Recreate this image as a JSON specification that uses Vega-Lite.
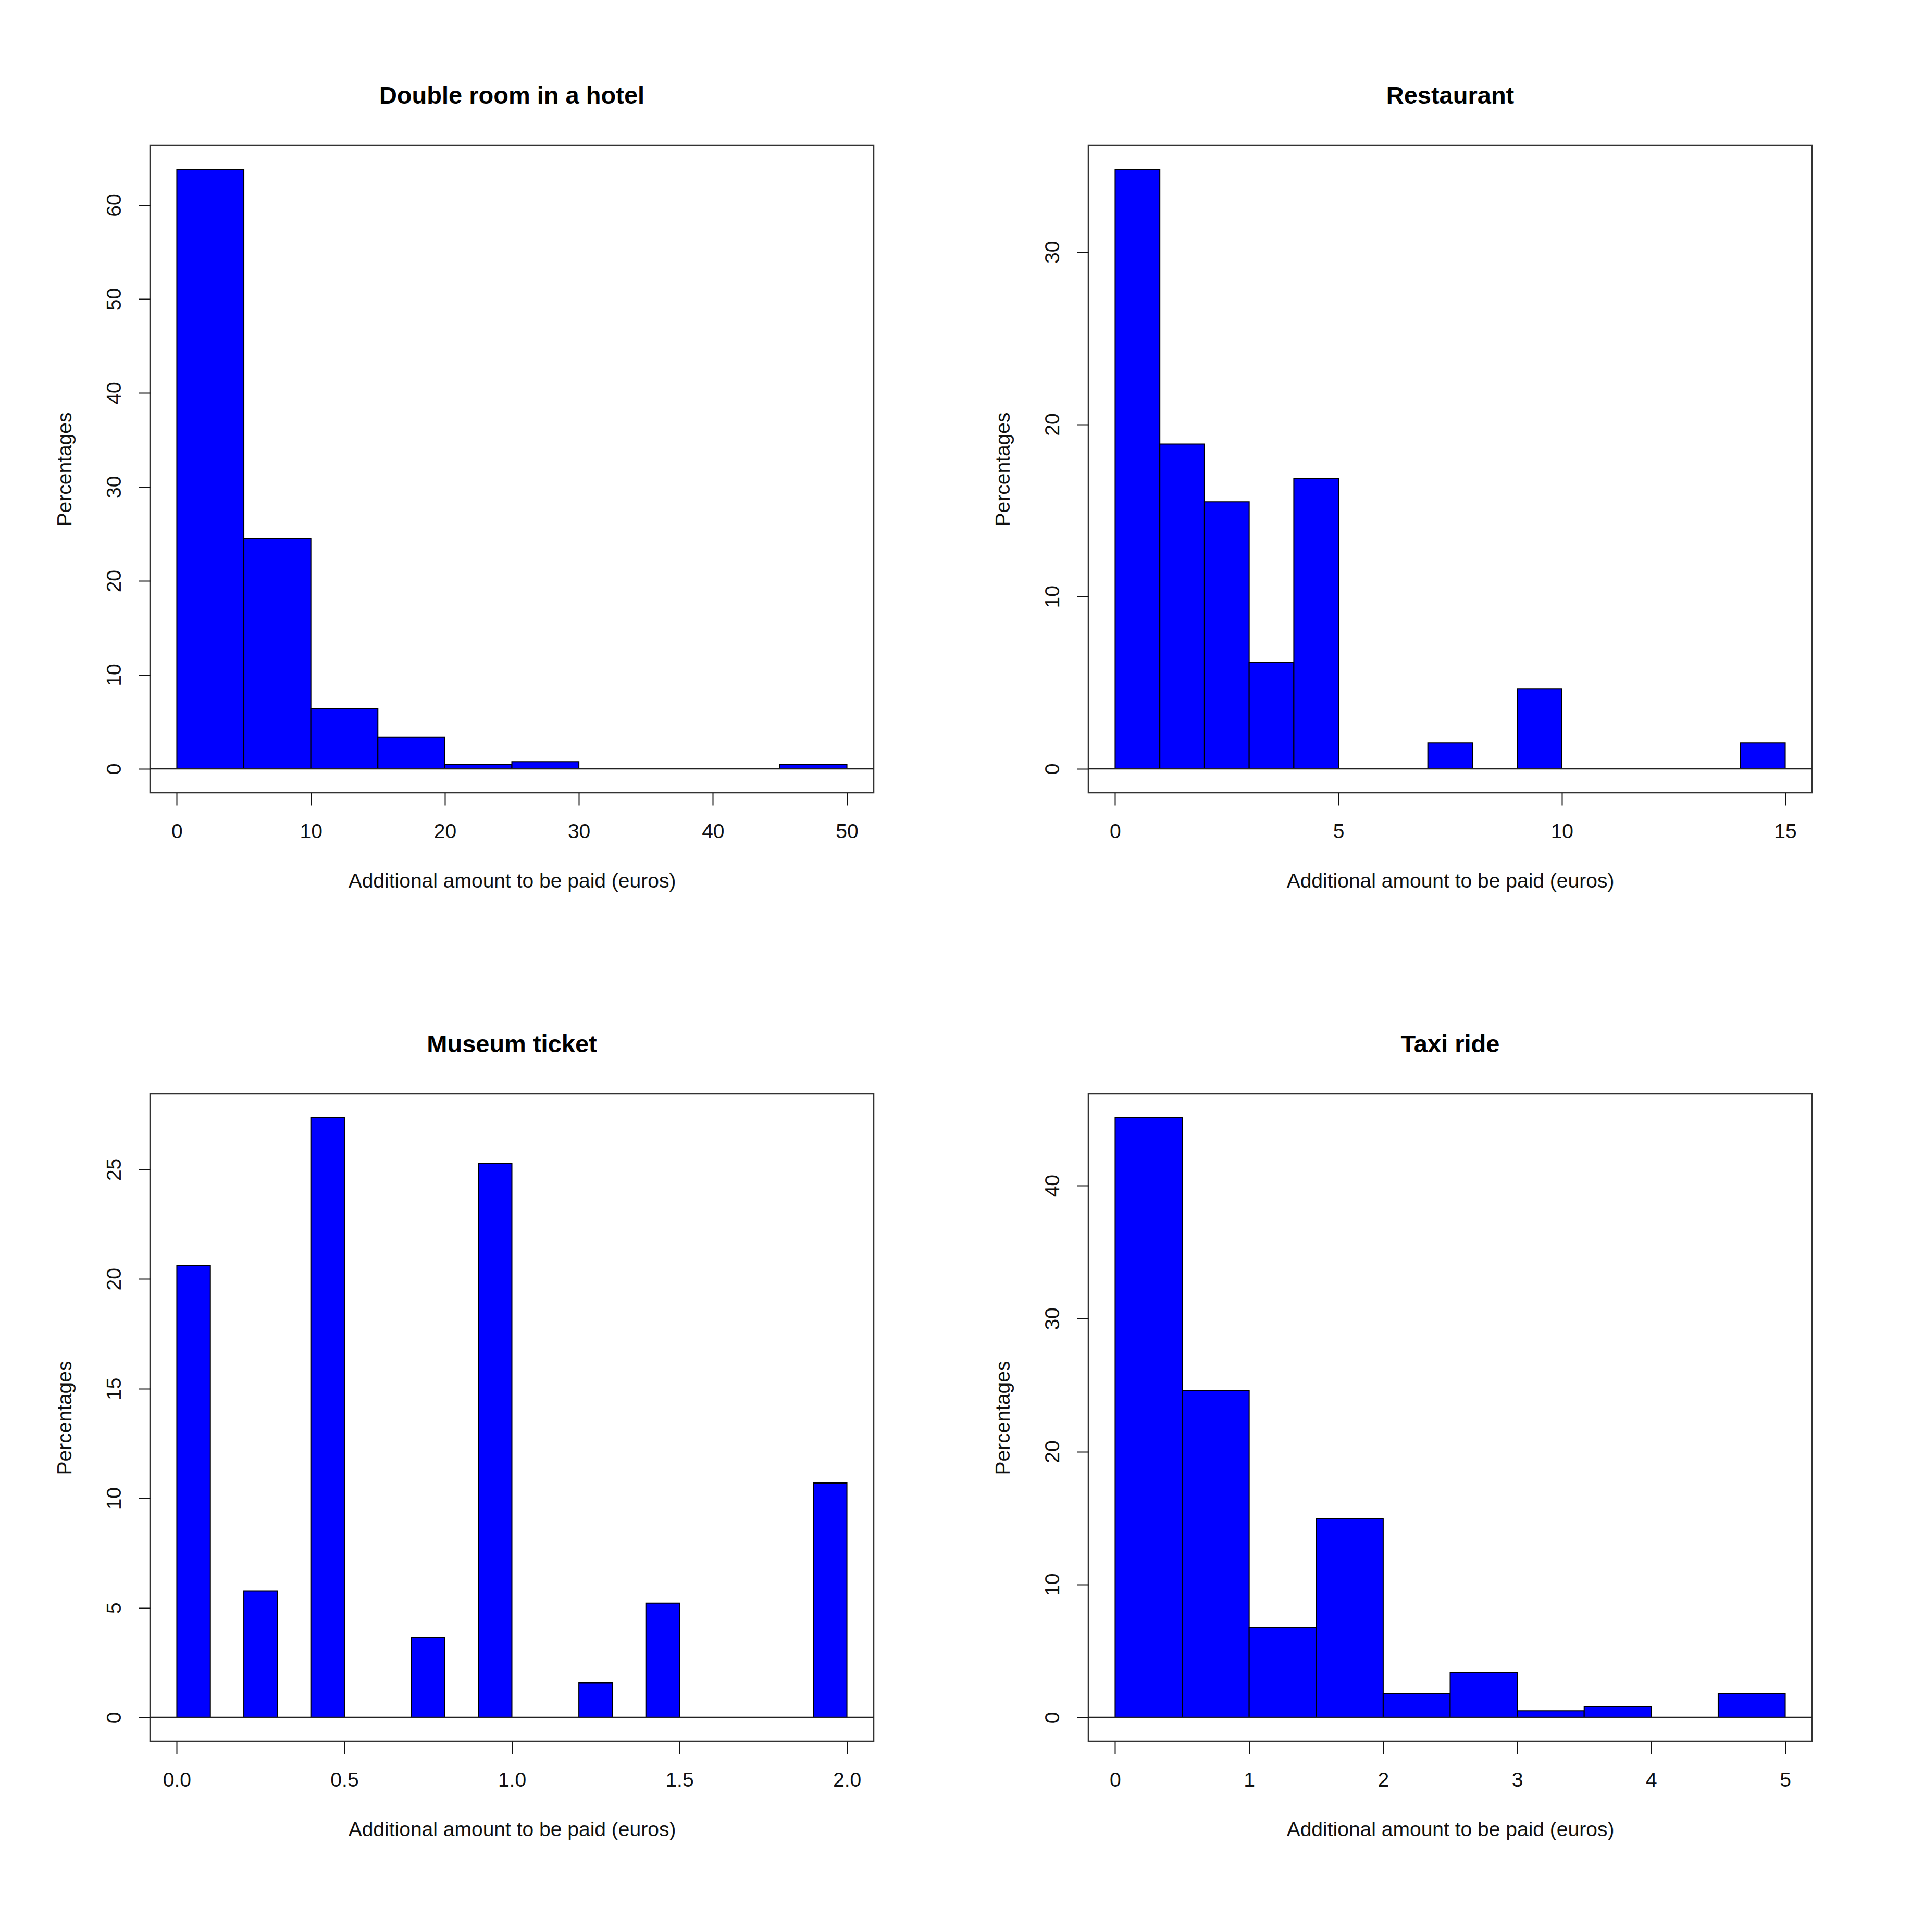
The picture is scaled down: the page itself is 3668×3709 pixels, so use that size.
{
  "$schema": "https://vega.github.io/schema/vega-lite/v6.json",
  "padding": {"left": 103, "top": 159, "right": 20, "bottom": 20},
  "background": "white",
  "data": {
    "values": [
      {"panel": "hotel", "lo": 0, "hi": 5, "pct": 63.8},
      {"panel": "hotel", "lo": 5, "hi": 10, "pct": 24.5},
      {"panel": "hotel", "lo": 10, "hi": 15, "pct": 6.4},
      {"panel": "hotel", "lo": 15, "hi": 20, "pct": 3.4},
      {"panel": "hotel", "lo": 20, "hi": 25, "pct": 0.45},
      {"panel": "hotel", "lo": 25, "hi": 30, "pct": 0.76},
      {"panel": "hotel", "lo": 45, "hi": 50, "pct": 0.45},
      {"panel": "restaurant", "lo": 0, "hi": 1, "pct": 34.8},
      {"panel": "restaurant", "lo": 1, "hi": 2, "pct": 18.85},
      {"panel": "restaurant", "lo": 2, "hi": 3, "pct": 15.5},
      {"panel": "restaurant", "lo": 3, "hi": 4, "pct": 6.2},
      {"panel": "restaurant", "lo": 4, "hi": 5, "pct": 16.85},
      {"panel": "restaurant", "lo": 7, "hi": 8, "pct": 1.5},
      {"panel": "restaurant", "lo": 9, "hi": 10, "pct": 4.65},
      {"panel": "restaurant", "lo": 14, "hi": 15, "pct": 1.5},
      {"panel": "museum", "lo": 0, "hi": 0.1, "pct": 20.6},
      {"panel": "museum", "lo": 0.2, "hi": 0.3, "pct": 5.76},
      {"panel": "museum", "lo": 0.4, "hi": 0.5, "pct": 27.35},
      {"panel": "museum", "lo": 0.7, "hi": 0.8, "pct": 3.66},
      {"panel": "museum", "lo": 0.9, "hi": 1.0, "pct": 25.27},
      {"panel": "museum", "lo": 1.2, "hi": 1.3, "pct": 1.58},
      {"panel": "museum", "lo": 1.4, "hi": 1.5, "pct": 5.21},
      {"panel": "museum", "lo": 1.9, "hi": 2.0, "pct": 10.69},
      {"panel": "taxi", "lo": 0, "hi": 0.5, "pct": 45.1},
      {"panel": "taxi", "lo": 0.5, "hi": 1, "pct": 24.6},
      {"panel": "taxi", "lo": 1, "hi": 1.5, "pct": 6.77},
      {"panel": "taxi", "lo": 1.5, "hi": 2, "pct": 14.96},
      {"panel": "taxi", "lo": 2, "hi": 2.5, "pct": 1.76},
      {"panel": "taxi", "lo": 2.5, "hi": 3, "pct": 3.37},
      {"panel": "taxi", "lo": 3, "hi": 3.5, "pct": 0.5},
      {"panel": "taxi", "lo": 3.5, "hi": 4, "pct": 0.79},
      {"panel": "taxi", "lo": 4.5, "hi": 5, "pct": 1.76}
    ]
  },
  "columns": 2,
  "bounds": "flush",
  "spacing": {"row": 578, "column": 412},
  "concat": [
    {
      "title": "Double room in a hotel",
      "width": 1389,
      "height": 1243,
      "transform": [{"filter": "datum.panel === 'hotel'"}],
      "layer": [
        {
          "mark": {"type": "rect", "color": "#0000FF", "stroke": "#000", "strokeWidth": 2},
          "encoding": {
            "x": {"field": "lo", "type": "quantitative",
                  "scale": {"domain": [-2, 52], "nice": false, "zero": false},
                  "axis": {"values": [0, 10, 20, 30, 40, 50], "title": "Additional amount to be paid (euros)"}},
            "x2": {"field": "hi"},
            "y": {"field": "pct", "type": "quantitative",
                  "scale": {"domain": [-2.552, 66.352], "nice": false, "zero": false},
                  "axis": {"values": [0, 10, 20, 30, 40, 50, 60], "title": "Percentages"}},
            "y2": {"datum": 0}
          }
        },
        {
          "transform": [{"aggregate": [{"op": "count", "as": "n"}]}],
          "mark": {"type": "rule", "color": "#222", "strokeWidth": 2.5},
          "encoding": {"y": {"datum": 0}}
        }
      ]
    },
    {
      "title": "Restaurant",
      "width": 1389,
      "height": 1243,
      "transform": [{"filter": "datum.panel === 'restaurant'"}],
      "layer": [
        {
          "mark": {"type": "rect", "color": "#0000FF", "stroke": "#000", "strokeWidth": 2},
          "encoding": {
            "x": {"field": "lo", "type": "quantitative",
                  "scale": {"domain": [-0.6, 15.6], "nice": false, "zero": false},
                  "axis": {"values": [0, 5, 10, 15], "title": "Additional amount to be paid (euros)"}},
            "x2": {"field": "hi"},
            "y": {"field": "pct", "type": "quantitative",
                  "scale": {"domain": [-1.392, 36.192], "nice": false, "zero": false},
                  "axis": {"values": [0, 10, 20, 30], "title": "Percentages"}},
            "y2": {"datum": 0}
          }
        },
        {
          "transform": [{"aggregate": [{"op": "count", "as": "n"}]}],
          "mark": {"type": "rule", "color": "#222", "strokeWidth": 2.5},
          "encoding": {"y": {"datum": 0}}
        }
      ]
    },
    {
      "title": "Museum ticket",
      "width": 1389,
      "height": 1243,
      "transform": [{"filter": "datum.panel === 'museum'"}],
      "layer": [
        {
          "mark": {"type": "rect", "color": "#0000FF", "stroke": "#000", "strokeWidth": 2},
          "encoding": {
            "x": {"field": "lo", "type": "quantitative",
                  "scale": {"domain": [-0.08, 2.08], "nice": false, "zero": false},
                  "axis": {"values": [0, 0.5, 1, 1.5, 2], "format": ".1f", "title": "Additional amount to be paid (euros)"}},
            "x2": {"field": "hi"},
            "y": {"field": "pct", "type": "quantitative",
                  "scale": {"domain": [-1.094, 28.444], "nice": false, "zero": false},
                  "axis": {"values": [0, 5, 10, 15, 20, 25], "title": "Percentages"}},
            "y2": {"datum": 0}
          }
        },
        {
          "transform": [{"aggregate": [{"op": "count", "as": "n"}]}],
          "mark": {"type": "rule", "color": "#222", "strokeWidth": 2.5},
          "encoding": {"y": {"datum": 0}}
        }
      ]
    },
    {
      "title": "Taxi ride",
      "width": 1389,
      "height": 1243,
      "transform": [{"filter": "datum.panel === 'taxi'"}],
      "layer": [
        {
          "mark": {"type": "rect", "color": "#0000FF", "stroke": "#000", "strokeWidth": 2},
          "encoding": {
            "x": {"field": "lo", "type": "quantitative",
                  "scale": {"domain": [-0.2, 5.2], "nice": false, "zero": false},
                  "axis": {"values": [0, 1, 2, 3, 4, 5], "title": "Additional amount to be paid (euros)"}},
            "x2": {"field": "hi"},
            "y": {"field": "pct", "type": "quantitative",
                  "scale": {"domain": [-1.804, 46.904], "nice": false, "zero": false},
                  "axis": {"values": [0, 10, 20, 30, 40], "title": "Percentages"}},
            "y2": {"datum": 0}
          }
        },
        {
          "transform": [{"aggregate": [{"op": "count", "as": "n"}]}],
          "mark": {"type": "rule", "color": "#222", "strokeWidth": 2.5},
          "encoding": {"y": {"datum": 0}}
        }
      ]
    }
  ],
  "config": {
    "font": "Liberation Sans",
    "view": {"stroke": "#333", "strokeWidth": 2.5},
    "axis": {
      "grid": false,
      "domain": false,
      "tickColor": "#111",
      "tickWidth": 2,
      "labelFont": "Liberation Sans",
      "labelFontSize": 39,
      "labelColor": "#111",
      "labelFlush": false,
      "labelOverlap": false,
      "titleFont": "Liberation Sans",
      "titleFontSize": 39,
      "titleFontWeight": "normal",
      "titleColor": "#111"
    },
    "axisX": {"tickSize": 24, "labelPadding": 31, "titlePadding": 56},
    "axisY": {"tickSize": 22, "labelPadding": 27, "labelAngle": -90, "labelAlign": "center", "labelBaseline": "bottom", "titlePadding": 56},
    "title": {"font": "Liberation Sans", "fontSize": 47, "fontWeight": "bold", "color": "#000", "offset": 70, "anchor": "middle", "frame": "group"}
  }
}
